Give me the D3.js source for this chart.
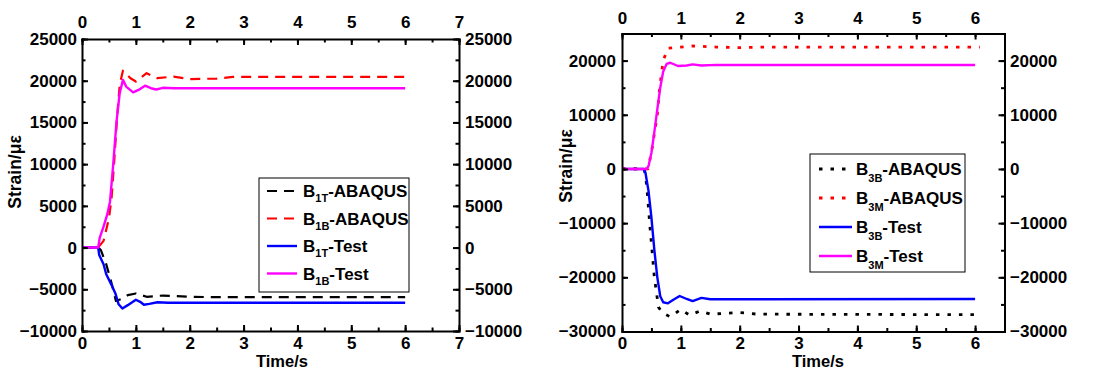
<!DOCTYPE html>
<html>
<head>
<meta charset="utf-8">
<script src="https://cdn.jsdelivr.net/npm/d3@7.9.0/dist/d3.min.js"></script>
<style>
  body { margin: 0; background: #fff; }
  svg text { font-family: "Liberation Sans", Arial, sans-serif; font-weight: bold; fill: #000; }
</style>
</head>
<body>
<svg id="chart" width="1097" height="380"></svg>
<script>
// ---- left panel (B1) ----
const leftTimeTicks = [0, 1, 2, 3, 4, 5, 6, 7];
const leftStrainTicks = [-10000, -5000, 0, 5000, 10000, 15000, 20000, 25000];

const b1tAbaqus = [[0, 0], [0.3, 0], [0.35, -300], [0.45, -2000], [0.55, -4300], [0.63, -6400],
  [0.72, -6200], [0.85, -5700], [1.0, -5500], [1.2, -5900], [1.5, -5750], [2.0, -5900], [2.5, -5950], [6.0, -5950]];
const b1bAbaqus = [[0, 0], [0.3, 0], [0.4, 800], [0.5, 3500], [0.55, 6000], [0.6, 10500], [0.65, 15500],
  [0.7, 19500], [0.76, 21200], [0.9, 20300], [1.0, 19900], [1.2, 20900], [1.4, 20300], [1.7, 20500],
  [2.0, 20200], [2.5, 20250], [2.8, 20450], [6.0, 20450]];
const b1tTest = [[0, 0], [0.3, 0], [0.32, -900], [0.4, -2000], [0.45, -3200], [0.55, -4500], [0.62, -5500],
  [0.68, -6800], [0.75, -7300], [0.85, -6900], [1.0, -6250], [1.08, -6500], [1.15, -6850], [1.25, -6750],
  [1.4, -6550], [1.6, -6620], [6.0, -6620]];
const b1bTest = [[0, 0], [0.3, 0], [0.33, 1200], [0.4, 2500], [0.47, 4000], [0.52, 5500], [0.58, 10000],
  [0.64, 15000], [0.7, 18500], [0.76, 20100], [0.82, 19300], [0.95, 18600], [1.05, 18900], [1.17, 19400],
  [1.28, 19100], [1.38, 18950], [1.5, 19150], [1.7, 19100], [6.0, 19100]];

// ---- right panel (B3) ----
const rightTimeTicks = [0, 1, 2, 3, 4, 5, 6];
const rightStrainTicks = [-30000, -20000, -10000, 0, 10000, 20000];

const b3bAbaqus = [[0, 0], [0.38, 0], [0.42, -3000], [0.47, -10000], [0.55, -20000], [0.62, -25500],
  [0.68, -26500], [0.82, -27300], [1.0, -25900], [1.15, -27000], [1.33, -26200], [1.5, -26800],
  [2.0, -26500], [2.3, -26800], [6.08, -26900]];
const b3mAbaqus = [[0, 0], [0.44, 0], [0.5, 3000], [0.55, 6500], [0.6, 10000], [0.64, 15000], [0.7, 20000],
  [0.78, 22300], [1.0, 22500], [1.2, 22700], [1.6, 22500], [2.0, 22400], [2.5, 22500], [6.08, 22500]];
const b3bTest = [[0, 0], [0.37, 0], [0.4, -800], [0.45, -4000], [0.5, -9000], [0.55, -15000], [0.6, -20000],
  [0.65, -23500], [0.7, -24600], [0.78, -24800], [0.88, -24100], [0.98, -23450], [1.1, -24000],
  [1.2, -24400], [1.35, -23800], [1.5, -24050], [6.0, -24000]];
const b3mTest = [[0, 0], [0.42, 0], [0.45, 500], [0.5, 3000], [0.54, 6000], [0.6, 11000], [0.65, 15000],
  [0.7, 18000], [0.76, 19400], [0.82, 19600], [0.95, 19000], [1.1, 19100], [1.2, 19300], [1.35, 19100],
  [1.6, 19200], [6.0, 19200]];

const svg = d3.select("#chart");

const panels = [
  {
    x0: 82, x1: 459, y0: 39, y1: 331,
    xDomain: [0, 7], yDomain: [-10000, 25000],
    xTicks: leftTimeTicks, xMinorStep: 0.5,
    yTicks: leftStrainTicks, yMinorStep: 2500,
    topPad: 11, bottomPad: 6, leftPad: 5, rightPad: 6,
    xTitle: 282, yTitleX: 15, yTitleY: 172,
    legend: { x: 259, y: 178, w: 150, h: 114, row0: 191, step: 27.5, lx0: 267, lx1: 297, tx: 303, sub: 5 },
    series: [
      { pre: "B", sub: "1T", post: "-ABAQUS", data: b1tAbaqus, color: "#000", dash: "10,7", width: 2.2 },
      { pre: "B", sub: "1B", post: "-ABAQUS", data: b1bAbaqus, color: "#ff0000", dash: "10,7", width: 2.2 },
      { pre: "B", sub: "1T", post: "-Test", data: b1tTest, color: "#0000ff", dash: null, width: 2.4 },
      { pre: "B", sub: "1B", post: "-Test", data: b1bTest, color: "#ff00ff", dash: null, width: 2.4 }
    ]
  },
  {
    x0: 622, x1: 1004.5, y0: 33.5, y1: 331.5,
    xDomain: [0, 6.5], yDomain: [-30000, 25000],
    xTicks: rightTimeTicks, xMinorStep: 0.5,
    yTicks: rightStrainTicks, yMinorStep: 5000,
    topPad: 9.5, bottomPad: 5, leftPad: 6, rightPad: 5.5,
    xTitle: 818, yTitleX: 566, yTitleY: 166,
    legend: { x: 810, y: 154, w: 155, h: 118, row0: 169, step: 29, lx0: 819, lx1: 852, tx: 856, sub: 7 },
    series: [
      { pre: "B", sub: "3B", post: "-ABAQUS", data: b3bAbaqus, color: "#000", dash: "3.5,8", width: 2.8 },
      { pre: "B", sub: "3M", post: "-ABAQUS", data: b3mAbaqus, color: "#ff0000", dash: "3.5,8", width: 2.8 },
      { pre: "B", sub: "3B", post: "-Test", data: b3bTest, color: "#0000ff", dash: null, width: 2.4 },
      { pre: "B", sub: "3M", post: "-Test", data: b3mTest, color: "#ff00ff", dash: null, width: 2.4 }
    ]
  }
];

panels.forEach(drawPanel);

function minorValues(domain, step) {
  return d3.range(domain[0], domain[1] + step / 2, step);
}

function drawPanel(p) {
  const x = d3.scaleLinear().domain(p.xDomain).range([p.x0, p.x1]);
  const y = d3.scaleLinear().domain(p.yDomain).range([p.y1, p.y0]);
  const g = svg.append("g");

  // data lines first, axes on top
  const line = d3.line().x(d => x(d[0])).y(d => y(d[1]));
  p.series.forEach(s => {
    g.append("path")
      .datum(s.data)
      .attr("d", line)
      .attr("fill", "none")
      .attr("stroke", s.color)
      .attr("stroke-width", s.width)
      .attr("stroke-dasharray", s.dash)
      .attr("stroke-linejoin", "round");
  });

  const xMinor = minorValues(p.xDomain, p.xMinorStep);
  const yMinor = minorValues(p.yDomain, p.yMinorStep);

  const axes = [
    [d3.axisBottom(x).tickValues(p.xTicks).tickPadding(p.bottomPad), d3.axisBottom(x).tickValues(xMinor), `translate(0,${p.y1})`],
    [d3.axisTop(x).tickValues(p.xTicks).tickPadding(p.topPad), d3.axisTop(x).tickValues(xMinor), `translate(0,${p.y0})`],
    [d3.axisLeft(y).tickValues(p.yTicks).tickPadding(p.leftPad), d3.axisLeft(y).tickValues(yMinor), `translate(${p.x0},0)`],
    [d3.axisRight(y).tickValues(p.yTicks).tickPadding(p.rightPad), d3.axisRight(y).tickValues(yMinor), `translate(${p.x1},0)`]
  ];

  axes.forEach(([major, minor, tr]) => {
    const gm = g.append("g").attr("transform", tr)
      .call(minor.tickSizeInner(-3.5).tickSizeOuter(0).tickFormat(""));
    gm.select(".domain").remove();
    gm.selectAll("line").attr("stroke-width", 2);

    const ga = g.append("g").attr("transform", tr)
      .call(major.tickSizeInner(-6).tickSizeOuter(0).tickFormat(d3.format("d")));
    ga.select(".domain").attr("stroke-width", 2).attr("stroke-linecap", "square");
    ga.selectAll("line").attr("stroke-width", 2);
    ga.selectAll("text").attr("font-size", 17).attr("font-family", null);
  });

  // axis titles
  g.append("text")
    .attr("x", p.xTitle).attr("y", 367)
    .attr("text-anchor", "middle").attr("font-size", 16.5)
    .text("Time/s");
  g.append("text")
    .attr("transform", `translate(${p.yTitleX + 6},${p.yTitleY}) rotate(-90)`)
    .attr("text-anchor", "middle").attr("font-size", 17.5)
    .text("Strain/με");

  // legend
  const L = p.legend;
  g.append("rect")
    .attr("x", L.x).attr("y", L.y).attr("width", L.w).attr("height", L.h)
    .attr("fill", "#fff").attr("stroke", "#000").attr("stroke-width", 1);
  p.series.forEach((s, i) => {
    const cy = L.row0 + i * L.step;
    g.append("line")
      .attr("x1", L.lx0).attr("x2", L.lx1).attr("y1", cy).attr("y2", cy)
      .attr("stroke", s.color).attr("stroke-width", s.width)
      .attr("stroke-dasharray", s.dash);
    const t = g.append("text").attr("x", L.tx).attr("y", cy + 6).attr("font-size", 17);
    t.append("tspan").text(s.pre);
    t.append("tspan").attr("font-size", 11).attr("dy", L.sub).text(s.sub);
    t.append("tspan").attr("dy", -L.sub).text(s.post);
  });
}
</script>
</body>
</html>
